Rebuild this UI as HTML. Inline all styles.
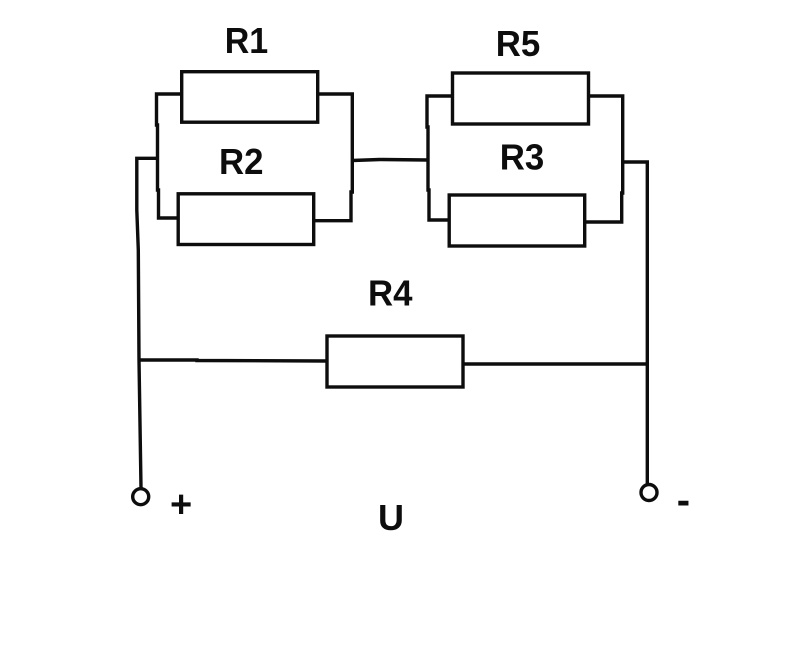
<!DOCTYPE html>
<html>
<head>
<meta charset="utf-8">
<style>
html,body{margin:0;padding:0;background:#fff;width:800px;height:649px;overflow:hidden}
svg{display:block}
text{font-family:"Liberation Sans",sans-serif;font-weight:bold;fill:#0d0d0d}
</style>
</head>
<body>
<svg width="800" height="649" viewBox="0 0 800 649" xmlns="http://www.w3.org/2000/svg">
<g fill="none" stroke="#0d0d0d" stroke-width="3.400">
<rect x="181.700" y="71.700" width="136" height="50.500"/>
<rect x="178.200" y="193.800" width="135.500" height="50.700"/>
<rect x="452.500" y="73" width="136" height="51"/>
<rect x="449.200" y="195" width="135.500" height="51"/>
<rect x="327" y="336" width="136" height="51"/>
<polyline points="181,94 156.500,94 156.500,125 157.500,125 157.500,190 158.500,190 158.500,218 178,218"/>
<polyline points="318,94 352.300,94 352.300,192 351,192 351,220.700 314,220.700"/>
<polyline points="452,96 427,96 427,127 428,127 428,190 429,190 429,220 449,220"/>
<polyline points="589,96 622.700,96 622.700,193 621.700,193 621.700,222 585,222"/>
<polyline points="352,160.500 380,159.500 428,160"/>
<polyline points="157,158.300 136.800,158.300 136.800,210 138.300,250 139,360 141,488"/>
<polyline points="622,162 647.300,162 647.300,484"/>
<polyline points="139,360 197,360 197,360.500 327,361"/>
<line x1="463" y1="364" x2="647" y2="364"/>
<circle cx="140.700" cy="496.700" r="8"/>
<circle cx="649" cy="492.500" r="8"/>
</g>
<text x="224.700" y="53" font-size="36" textLength="43.500" lengthAdjust="spacingAndGlyphs">R1</text>
<text x="219" y="174" font-size="36" textLength="44.500" lengthAdjust="spacingAndGlyphs">R2</text>
<text x="495.700" y="56" font-size="36" textLength="44.500" lengthAdjust="spacingAndGlyphs">R5</text>
<text x="499.700" y="169.500" font-size="36" textLength="44.500" lengthAdjust="spacingAndGlyphs">R3</text>
<text x="368" y="305.500" font-size="36" textLength="44.500" lengthAdjust="spacingAndGlyphs">R4</text>
<text x="378" y="530" font-size="36">U</text>
<text x="170" y="517" font-size="38">+</text>
<text x="676.700" y="513.500" font-size="40">-</text>
</svg>
</body>
</html>
